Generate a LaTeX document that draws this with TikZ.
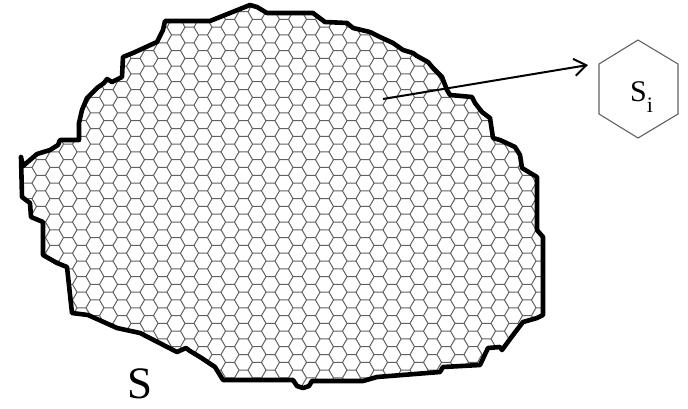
\documentclass[tikz,border=0pt]{standalone}
\usepackage{fontspec}
\setmainfont{Liberation Serif}
\usetikzlibrary{arrows.meta}
\tikzset{
  outline/.style={line width=4.6pt, line join=round, draw=black},
  hexline/.style={draw=black!62, line width=1pt},
  cellhex/.style={draw=black!62, line width=1.1pt, line join=miter},
  pointer/.style={line width=2pt, -{Straight Barb[length=12pt,width=17pt,line width=2pt]}},
  bigtext/.style={inner sep=0pt, font=\fontsize{45}{50}\selectfont},
  celltext/.style={inner sep=0pt, font=\fontsize{30}{32}\selectfont}
}
\newcommand{\regionpath}{(165,21) -- (210,21) -- (230,13) -- (250,5) -- (257,7) -- (267,13) -- (313,13) -- (325,22) -- (347,23) -- (353,28) -- (370,32) -- (380,37) -- (393,43) -- (403,50) -- (413,53) -- (417,56) -- (428,62) -- (433,68) -- (442,77) -- (447,90) -- (450,95) -- (472,97) -- (475,103) -- (482,112) -- (490,118) -- (493,138) -- (500,140) -- (515,147) -- (520,155) -- (522,168) -- (537,177) -- (537,230) -- (543,237) -- (543,315) -- (537,318) -- (523,322) -- (513,335) -- (502,350) -- (500,347) -- (488,348) -- (480,365) -- (443,367) -- (440,372) -- (377,377) -- (363,381) -- (312,381) -- (309,386) -- (303,388) -- (297,386) -- (293,380) -- (223,380) -- (215,367) -- (200,357) -- (190,351) -- (186,348) -- (177,352) -- (140,333) -- (117,328) -- (88,315) -- (72,313) -- (67,267) -- (57,263) -- (43,255) -- (43,222) -- (31,217) -- (30,203) -- (22,197) -- (21,157) -- (23,166) -- (37,154) -- (50,150) -- (58,145) -- (60,140) -- (79,140) -- (79,123) -- (82,110) -- (87,98) -- (97,88) -- (104,83) -- (107,79) -- (112,82) -- (122,77) -- (123,57) -- (133,53) -- (157,42) -- (163,30) -- cycle}
\begin{document}
\begin{tikzpicture}[x=1pt,y=-1pt]
\useasboundingbox (0,0) rectangle (688,408);
% hexagonal mesh clipped to the region
\begin{scope}
  \clip \regionpath;
  \foreach \i in {0,...,41}{
    \foreach \j in {0,...,27}{
      \pgfmathsetmacro\cx{14+13.5*\i}
      \pgfmathsetmacro\cy{-4+15.588*\j+7.794*mod(\i,2)}
      \draw[hexline] (\cx,\cy) ++(4.5,-7.794) -- ++(-9,0) -- ++(-4.5,7.794) -- ++(4.5,7.794);
    }
  }
\end{scope}
% region outline
\draw[outline] \regionpath;
% region label
\node[bigtext, anchor=base] (S) at (140,398) {S};
% single cell
\draw[cellhex] (638,40) coordinate (h1) -- (678,64) coordinate (h2) -- (678,114) coordinate (h3)
  -- (638,138) coordinate (h4) -- (599,114) coordinate (h5) -- (599,64) coordinate (h6) -- cycle;
\node[celltext, anchor=base west] (si) at (630,101) {S\raisebox{-11pt}{\fontsize{22}{22}\selectfont i}};
% pointer
\coordinate (pstart) at (383,99);
\coordinate (pend) at (588,65);
\draw[pointer] (pstart) -- (pend);
\end{tikzpicture}
\end{document}
